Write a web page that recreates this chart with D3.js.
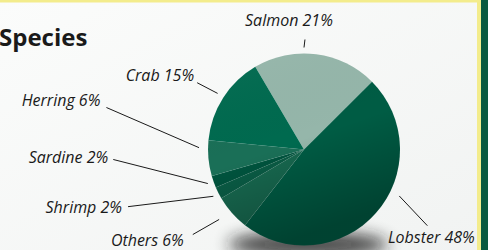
<!DOCTYPE html>
<html>
<head>
<meta charset="utf-8">
<script src="https://cdn.jsdelivr.net/npm/d3@7/dist/d3.min.js"></script>
<style>
  html, body { margin: 0; padding: 0; background: #fff; }
  svg { display: block; }
  .lbl { font-family: "Open Sans", sans-serif; font-style: italic; font-size: 16px; fill: #1a1a1a; }
</style>
</head>
<body>
<svg id="chart" width="488" height="250"></svg>
<script>
// data
const species = ["Salmon", "Lobster", "Others", "Shrimp", "Sardine", "Herring", "Crab"];
const shares = [21, 48, 6, 2, 2, 6, 15];
const sliceColors = ["#a9c5bc", "#005c44", "#17684f", "#0a5c45", "#00543e", "#1a6f57", "#006a4f"];

// callout layout: leader angle (deg), inner/outer radius, text offset
const callouts = [
  { a0: 0,   a1: 0.5,  r0: 102, r1: 110, dx: -16, dy: -14, anchor: "middle" },
  { a0: 116, a1: 121.7, r0: 106, r1: 145, dx: 4,  dy: 17, anchor: "middle" },
  { a0: 230.5, a1: 232.6, r0: 110, r1: 140, dx: -9, dy: 11, anchor: "end" },
  { a0: 242.7, a1: 252, r0: 102, r1: 185, dx: -6, dy: 6, anchor: "end" },
  { a0: 250.5, a1: 267, r0: 102, r1: 191, dx: -5, dy: 4, anchor: "end" },
  { a0: 271, a1: 282, r0: 105, r1: 202, dx: -6, dy: -2, anchor: "end" },
  { a0: 303, a1: 302, r0: 103, r1: 126, dx: -3, dy: -2, anchor: "end" }
];

const W = 488, H = 250;
const cx = 304, cy = 149.5, R = 96;
const startDeg = -30.5;

const svg = d3.select("#chart");
const defs = svg.append("defs");

// page background
const bg = defs.append("linearGradient").attr("id", "bg").attr("x1", 0).attr("y1", 0).attr("x2", 1).attr("y2", 1);
bg.append("stop").attr("offset", "0%").attr("stop-color", "#fbfcfb");
bg.append("stop").attr("offset", "100%").attr("stop-color", "#f1f3f2");
svg.append("rect").attr("width", W).attr("height", H).attr("fill", "url(#bg)");

// frame: yellow rule and green strip
svg.append("rect").attr("x", 0).attr("y", 0).attr("width", W).attr("height", 2.5).attr("fill", "#f3ec8c");
svg.append("rect").attr("x", 477).attr("y", 0).attr("width", 4).attr("height", H).attr("fill", "#f3ec8c");
svg.append("rect").attr("x", 481).attr("y", 0).attr("width", 7).attr("height", H).attr("fill", "#0a5a3f");

// shadow under pie
const blur = defs.append("filter").attr("id", "blur").attr("x", "-50%").attr("y", "-50%").attr("width", "200%").attr("height", "200%");
blur.append("feGaussianBlur").attr("stdDeviation", 8);
svg.append("ellipse").attr("cx", cx + 4).attr("cy", cy + R - 1).attr("rx", 80).attr("ry", 13)
  .attr("fill", "#1e1e1e").attr("opacity", 0.8).attr("filter", "url(#blur)");

// salmon highlight gradient
const sal = defs.append("radialGradient").attr("id", "salmon").attr("gradientUnits", "userSpaceOnUse")
  .attr("cx", cx).attr("cy", cy - 78).attr("r", 105);
sal.append("stop").attr("offset", "0%").attr("stop-color", "#c3d5d0");
sal.append("stop").attr("offset", "100%").attr("stop-color", "#95b6aa");

const pie = d3.pie().sort(null).value(d => d)
  .startAngle(startDeg * Math.PI / 180)
  .endAngle((startDeg + 360) * Math.PI / 180);
const arcs = pie(shares);
const arc = d3.arc().innerRadius(0).outerRadius(R);

const g = svg.append("g").attr("transform", `translate(${cx},${cy})`);
g.selectAll("path.slice")
  .data(arcs)
  .join("path")
  .attr("class", "slice")
  .attr("d", arc)
  .attr("fill", (d, i) => i === 0 ? "url(#salmon)" : sliceColors[i])
  .attr("stroke", (d, i) => i === 0 ? "none" : "rgba(255,255,255,0.06)")
  .attr("stroke-width", 0.6);

// shading overlay for depth
const shade = defs.append("linearGradient").attr("id", "shade").attr("x1", 0).attr("y1", 0).attr("x2", 0.35).attr("y2", 1);
shade.append("stop").attr("offset", "0%").attr("stop-color", "#ffffff").attr("stop-opacity", 0.04);
shade.append("stop").attr("offset", "55%").attr("stop-color", "#000000").attr("stop-opacity", 0.0);
shade.append("stop").attr("offset", "100%").attr("stop-color", "#000000").attr("stop-opacity", 0.28);
g.append("circle").attr("r", R).attr("fill", "url(#shade)");

// title
svg.append("text").attr("x", -1).attr("y", 46)
  .attr("font-family", "'Open Sans', sans-serif").attr("font-weight", 700).attr("font-size", 24)
  .attr("fill", "#1a1a1a").text("Species");

// callouts
const polar = (deg, r) => [cx + r * Math.sin(deg * Math.PI / 180), cy - r * Math.cos(deg * Math.PI / 180)];
species.forEach((name, i) => {
  const c = callouts[i];
  const p0 = polar(c.a0, c.r0), p1 = polar(c.a1, c.r1);
  svg.append("line")
    .attr("x1", p0[0]).attr("y1", p0[1]).attr("x2", p1[0]).attr("y2", p1[1])
    .attr("stroke", "#1a1a1a").attr("stroke-width", 1);
  svg.append("text").attr("class", "lbl")
    .attr("x", p1[0] + c.dx).attr("y", p1[1] + c.dy)
    .attr("text-anchor", c.anchor)
    .text(`${name} ${shares[i]}%`);
});
</script>
</body>
</html>
